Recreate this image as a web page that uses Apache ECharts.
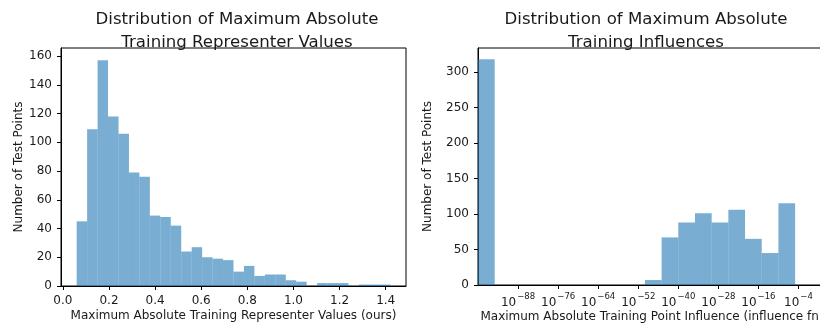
<!DOCTYPE html>
<html>
<head>
<meta charset="utf-8">
<script src="https://cdn.jsdelivr.net/npm/echarts@6/dist/echarts.min.js"></script>
<style>
  html, body { margin: 0; padding: 0; background: #fff; overflow: hidden; }
  #chart { width: 820px; height: 324px; }
</style>
</head>
<body>
<div id="chart"></div>
<script>
// Left histogram: representer values, 30 equal-width bins over [0.060, 1.420]
const repRange = [0.060, 1.420];
const repCounts = [45, 109, 157, 118, 106, 79, 76, 49, 48, 42,
                   24, 27, 20, 19, 18, 10, 14, 7, 8, 8,
                   4, 3, 0, 2, 2, 2, 0, 1, 1, 1];
const repTicks = [0.0, 0.2, 0.4, 0.6, 0.8, 1.0, 1.2, 1.4];
const repYTicks = [0, 20, 40, 60, 80, 100, 120, 140, 160];

// Right histogram: influence values, bins are 5 decades wide (log10 exponents)
const inflEdges = [-100, -95, -90, -85, -80, -75, -70, -65, -60, -55, -50,
                   -45, -40, -35, -30, -25, -20, -15, -10, -5, 0];
const inflCounts = [318, 0, 0, 0, 0, 0, 0, 0, 0, 0,
                    7, 67, 88, 101, 88, 106, 65, 45, 115, 0];
const inflTicks = [-88, -76, -64, -52, -40, -28, -16, -4];
const inflYTicks = [0, 50, 100, 150, 200, 250, 300];

const FONT = 'DejaVu Sans';
const TXT = '#1a1a1a';
const BAR = 'rgba(31,119,180,0.6)';
const FS = 12;

const repBins = repCounts.map((c, i) => {
  const w = (repRange[1] - repRange[0]) / repCounts.length;
  return [repRange[0] + i * w, repRange[0] + (i + 1) * w, c];
});
const inflBins = inflCounts.map((c, i) => [inflEdges[i], inflEdges[i + 1], c]);

function renderBin(params, api) {
  const p0 = api.coord([api.value(0), api.value(2)]);
  const p1 = api.coord([api.value(1), 0]);
  return {
    type: 'rect',
    shape: { x: p0[0], y: p0[1], width: p1[0] - p0[0], height: p1[1] - p0[1] },
    style: { fill: BAR }
  };
}

const axisCommon = {
  axisLine: { show: true, onZero: false, lineStyle: { color: '#000', width: 1 } },
  axisTick: { show: true, length: 4, lineStyle: { color: '#000', width: 1 } },
  splitLine: { show: false },
  nameMoveOverlap: false,
  nameTextStyle: { fontFamily: FONT, fontSize: FS, color: TXT }
};

const supMinus = '\u2212';
const titleStyle = { fontFamily: FONT, fontSize: 16.6, fontWeight: 'normal', color: TXT, lineHeight: 23 };

const option = {
  animation: false,
  backgroundColor: '#fff',
  title: [
    {
      text: 'Distribution of Maximum Absolute\nTraining Representer Values',
      left: 232, top: 3, textAlign: 'center', textStyle: titleStyle
    },
    {
      text: 'Distribution of Maximum Absolute\nTraining Influences',
      left: 641, top: 3, textAlign: 'center', textStyle: titleStyle
    }
  ],
  grid: [
    { left: 61, top: 48, width: 345, height: 238, outerBoundsMode: 'none', containLabel: false,
      show: true, borderColor: '#000', borderWidth: 1, backgroundColor: 'transparent' },
    { left: 478, top: 48, width: 348, height: 237, outerBoundsMode: 'none', containLabel: false,
      show: true, borderColor: '#000', borderWidth: 1, backgroundColor: 'transparent' }
  ],
  xAxis: [
    Object.assign({}, axisCommon, {
      type: 'value', gridIndex: 0, min: -0.008, max: 1.488,
      name: 'Maximum Absolute Training Representer Values (ours)',
      nameLocation: 'middle', nameGap: 23.5,
      axisTick: Object.assign({}, axisCommon.axisTick, { customValues: repTicks }),
      axisLabel: { customValues: repTicks, margin: 9, fontFamily: FONT, fontSize: FS, color: TXT,
                   formatter: v => v.toFixed(1) }
    }),
    Object.assign({}, axisCommon, {
      type: 'value', gridIndex: 1, min: -100, max: 4.25,
      name: 'Maximum Absolute Training Point Influence (influence fn)',
      nameLocation: 'middle', nameGap: 25.5,
      axisTick: Object.assign({}, axisCommon.axisTick, { customValues: inflTicks }),
      axisLabel: {
        customValues: inflTicks, margin: 7, fontFamily: FONT, color: TXT,
        formatter: v => '{b|10}{s|' + (v < 0 ? supMinus : '') + Math.abs(v) + '}',
        rich: {
          b: { fontFamily: FONT, fontSize: FS, color: TXT, lineHeight: 17, verticalAlign: 'bottom' },
          s: { fontFamily: FONT, fontSize: 8.5, color: TXT, lineHeight: 17, verticalAlign: 'top', padding: [0, 0, 0, 1] }
        }
      }
    })
  ],
  yAxis: [
    Object.assign({}, axisCommon, {
      type: 'value', gridIndex: 0, min: 0, max: 165.6,
      name: 'Number of Test Points', nameLocation: 'middle', nameGap: 36,
      axisTick: Object.assign({}, axisCommon.axisTick, { customValues: repYTicks }),
      axisLabel: { customValues: repYTicks, margin: 9, fontFamily: FONT, fontSize: FS, color: TXT }
    }),
    Object.assign({}, axisCommon, {
      type: 'value', gridIndex: 1, min: 0, max: 333.8,
      name: 'Number of Test Points', nameLocation: 'middle', nameGap: 44,
      axisTick: Object.assign({}, axisCommon.axisTick, { customValues: inflYTicks }),
      axisLabel: { customValues: inflYTicks, margin: 9, fontFamily: FONT, fontSize: FS, color: TXT }
    })
  ],
  series: [
    { type: 'custom', xAxisIndex: 0, yAxisIndex: 0, renderItem: renderBin,
      encode: { x: [0, 1], y: 2 }, data: repBins, clip: true },
    { type: 'custom', xAxisIndex: 1, yAxisIndex: 1, renderItem: renderBin,
      encode: { x: [0, 1], y: 2 }, data: inflBins, clip: true }
  ]
};

const chart = echarts.init(document.getElementById('chart'), null, { renderer: 'canvas' });
chart.setOption(option);
</script>
</body>
</html>
